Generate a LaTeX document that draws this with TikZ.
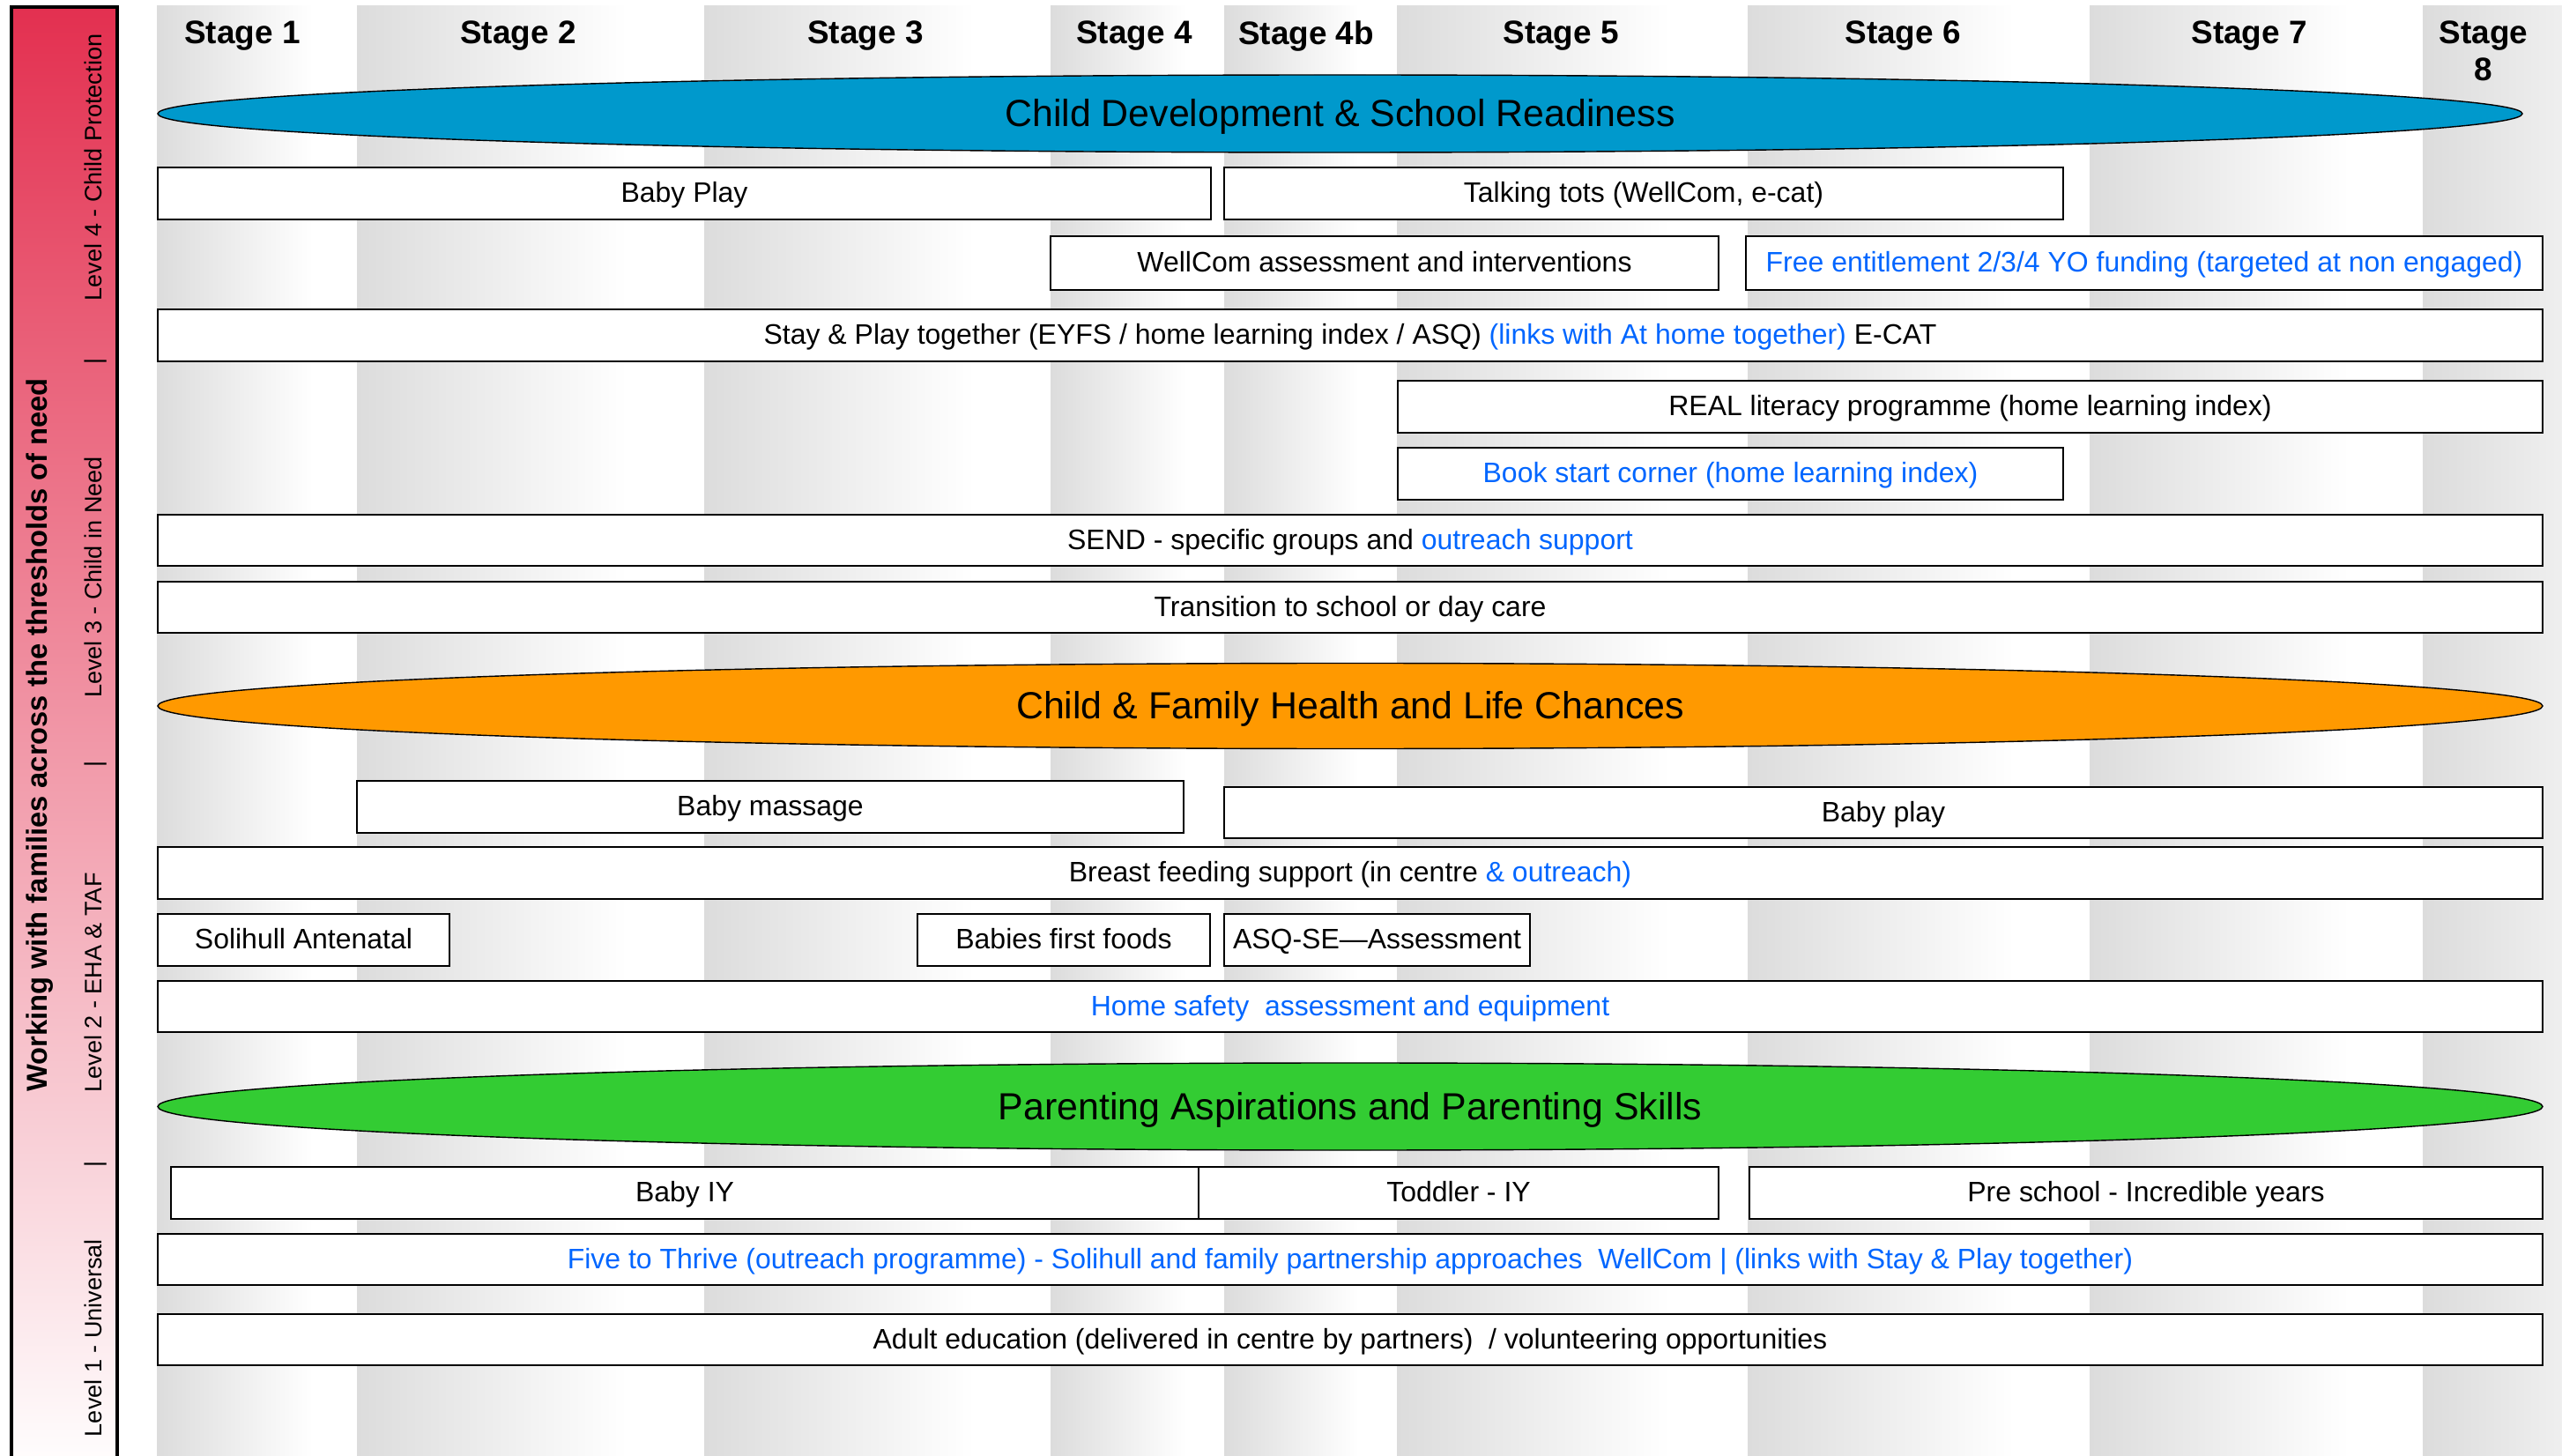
\documentclass[tikz,border=0pt]{standalone}
\usepackage{fontspec}
\setmainfont{Liberation Sans}
\usepackage{xcolor}
\usetikzlibrary{shapes.geometric}
\definecolor{barred}{RGB}{227,48,80}
\definecolor{stripegray}{RGB}{220,220,220}
\definecolor{devblue}{RGB}{0,153,204}
\definecolor{healthorange}{RGB}{255,153,0}
\definecolor{parentgreen}{RGB}{51,204,51}
\definecolor{linkblue}{RGB}{0,102,255}

\begin{document}
\begin{tikzpicture}[
  prog/.style={draw, line width=0.75pt, fill=white, inner sep=0pt, minimum height=0.59cm, text height=6.5pt, text depth=0.8pt, font=\fontsize{9.1}{11}\selectfont},
  theme/.style={ellipse, draw, line width=0.4pt, inner sep=0pt, text height=8.8pt, text depth=0.4pt, font=\fontsize{12.2}{14}\selectfont},
  stagelabel/.style={anchor=north, inner sep=0pt, align=center, font=\fontsize{10.5}{12}\selectfont\bfseries},
  leveltext/.style={rotate=90, anchor=base, inner sep=0pt, font=\fontsize{7.7}{9}\selectfont},
  stripe/.style={left color=stripegray, right color=white}
]
		\useasboundingbox (0,0) rectangle (29.07,-16.52);
		\clip (0,0) rectangle (29.07,-16.52);
		\shade [stripe] (1.78,-0.07) rectangle (3.55,-16.52);
		\shade [stripe] (4.05,-0.07) rectangle (7.12,-16.52);
		\shade [stripe] (7.99,-0.07) rectangle (11.06,-16.52);
		\shade [stripe] (11.92,-0.07) rectangle (13.46,-16.52);
		\shade [stripe] (13.89,-0.07) rectangle (15.42,-16.52);
		\shade [stripe] (15.85,-0.07) rectangle (18.95,-16.52);
		\shade [stripe] (19.83,-0.07) rectangle (22.86,-16.52);
		\shade [stripe] (23.71,-0.07) rectangle (26.66,-16.52);
		\shade [stripe] (27.49,-0.07) rectangle (30.45,-16.52);
		\draw [line width=0.9pt, top color=barred, bottom color=white] (0.13,-0.08) rectangle (1.33,-16.75);
		\node [rotate=90, anchor=base, inner sep=0pt, font=\fontsize{9.3}{11}\selectfont\bfseries] (needs) at (0.53,-8.34) {Working with families across the thresholds of need};
		\node [leveltext] (lvlfour) at (1.15,-1.90) {Level 4 - Child Protection};
		\node [leveltext] (sepa) at (1.15,-4.10) {|};
		\node [leveltext] (lvlthree) at (1.15,-6.55) {Level 3 - Child in Need};
		\node [leveltext] (sepb) at (1.15,-8.67) {|};
		\node [leveltext] (lvltwo) at (1.15,-11.15) {Level 2 - EHA \& TAF};
		\node [leveltext] (sepc) at (1.15,-13.21) {|};
		\node [leveltext] (lvlone) at (1.15,-15.18) {Level 1 - Universal};
		\node [stagelabel] (st1) at (2.75,-0.23) {Stage 1};
		\node [stagelabel] (st2) at (5.88,-0.23) {Stage 2};
		\node [stagelabel] (st3) at (9.82,-0.23) {Stage 3};
		\node [stagelabel] (st4) at (12.87,-0.23) {Stage 4};
		\node [stagelabel] (st4b) at (14.82,-0.23) {Stage 4b};
		\node [stagelabel] (st5) at (17.71,-0.23) {Stage 5};
		\node [stagelabel] (st6) at (21.59,-0.23) {Stage 6};
		\node [stagelabel] (st7) at (25.52,-0.23) {Stage 7};
		\node [stagelabel] (st8) at (28.18,-0.23) {Stage\\8};
		\node [theme, fill=devblue, minimum width=26.83cm, minimum height=0.88cm] (devtheme) at (15.205,-1.29) {Child Development \& School Readiness};
		\node [prog, minimum width=11.95cm] (babyplay) at (7.765,-2.195) {Baby Play};
		\node [prog, minimum width=9.52cm] (talkingtots) at (18.65,-2.195) {Talking tots (WellCom, e-cat)};
		\node [prog, minimum width=7.58cm, minimum height=0.61cm] (wellcom) at (15.71,-2.985) {WellCom assessment and interventions};
		\node [prog, minimum width=9.04cm, minimum height=0.61cm, text=linkblue] (freeentitle) at (24.33,-2.985) {Free entitlement 2/3/4 YO funding (targeted at non engaged)};
		\node [prog, minimum width=27.06cm] (stayplay) at (15.32,-3.805) {Stay \& Play together (EYFS / home learning index / ASQ) \textcolor{linkblue}{(links with At home together)} E-CAT};
		\node [prog, minimum width=12.99cm] (real) at (22.355,-4.615) {REAL literacy programme (home learning index)};
		\node [prog, minimum width=7.55cm, text=linkblue] (bookstart) at (19.635,-5.375) {Book start corner (home learning index)};
		\node [prog, minimum width=27.06cm, minimum height=0.58cm] (send) at (15.32,-6.13) {SEND - specific groups and \textcolor{linkblue}{outreach support}};
		\node [prog, minimum width=27.06cm, minimum height=0.58cm] (transition) at (15.32,-6.89) {Transition to school or day care};
		\node [theme, fill=healthorange, minimum width=27.06cm, minimum height=0.97cm] (healththeme) at (15.32,-8.01) {Child \& Family Health and Life Chances};
		\node [prog, minimum width=9.38cm] (babymassage) at (8.74,-9.155) {Baby massage};
		\node [prog, minimum width=14.96cm, minimum height=0.58cm] (babyplayb) at (21.37,-9.22) {Baby play};
		\node [prog, minimum width=27.06cm] (breastfeed) at (15.32,-9.905) {Breast feeding support (in centre \textcolor{linkblue}{\& outreach)}};
		\node [prog, minimum width=3.31cm] (antenatal) at (3.445,-10.665) {Solihull Antenatal};
		\node [prog, minimum width=3.32cm] (firstfoods) at (12.07,-10.665) {Babies first foods};
		\node [prog, minimum width=3.47cm] (asqse) at (15.625,-10.665) {ASQ-SE—Assessment};
		\node [prog, minimum width=27.06cm, minimum height=0.58cm, text=linkblue] (homesafety) at (15.32,-11.42) {Home safety~ assessment and equipment};
		\node [theme, fill=parentgreen, minimum width=27.06cm, minimum height=0.99cm] (parenttheme) at (15.32,-12.555) {Parenting Aspirations and Parenting Skills};
		\node [prog, minimum width=11.66cm] (babyiy) at (7.77,-13.535) {Baby IY};
		\node [prog, minimum width=5.90cm] (toddleriy) at (16.55,-13.535) {Toddler - IY};
		\node [prog, minimum width=9.00cm] (preschool) at (24.35,-13.535) {Pre school - Incredible years};
		\node [prog, minimum width=27.06cm, minimum height=0.58cm, text=linkblue] (fivethrive) at (15.32,-14.29) {Five to Thrive (outreach programme) - Solihull and family partnership approaches~ WellCom | (links with Stay \& Play together)};
		\node [prog, minimum width=27.06cm, minimum height=0.58cm] (adulted) at (15.32,-15.20) {Adult education (delivered in centre by partners)~ / volunteering opportunities};
	\end{tikzpicture}
\end{document}
